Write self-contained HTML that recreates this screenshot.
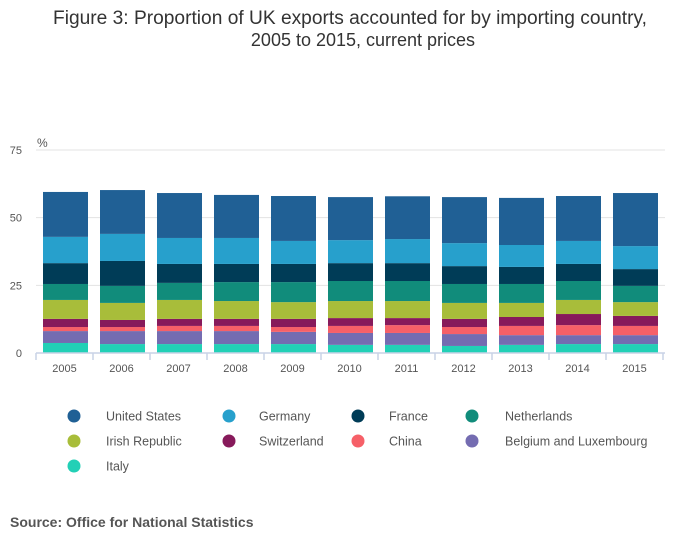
<!DOCTYPE html>
<html><head><meta charset="utf-8"><style>
body{margin:0;background:#fff;width:700px;height:549px;overflow:hidden;font-family:"Liberation Sans",sans-serif}
</style></head><body>
<svg id="chart" width="700" height="549" xmlns="http://www.w3.org/2000/svg" font-family="Liberation Sans, sans-serif">
<text x="53" y="24" textLength="594" lengthAdjust="spacingAndGlyphs" font-size="19" fill="#333">Figure 3: Proportion of UK exports accounted for by importing country,</text>
<text x="363" y="46" text-anchor="middle" font-size="18" fill="#333">2005 to 2015, current prices</text>
<text x="37" y="147" font-size="12" fill="#555">%</text>
<g id="grid"></g><g id="bars"></g><g id="xaxis"></g><g id="legend"></g>
<text x="10" y="527" font-size="14" font-weight="bold" fill="#555">Source: Office for National Statistics</text>
</svg>
<script>
const years=["2005","2006","2007","2008","2009","2010","2011","2012","2013","2014","2015"];
const seriesNames=["Italy","Belgium and Luxembourg","China","Switzerland","Irish Republic","Netherlands","France","Germany","United States"];
const italy=[3.7,3.3,3.3,3.3,3.3,3.0,3.0,2.6,3.0,3.3,3.3];
const belgiumLux=[4.4,4.8,4.8,4.8,4.5,4.4,4.4,4.4,3.6,3.3,3.3];
const china=[1.5,1.5,1.9,1.9,1.8,2.6,2.9,2.6,3.4,3.7,3.4];
const switzerland=[3.0,2.6,2.6,2.6,3.0,2.9,2.6,3.0,3.3,4.1,3.7];
const irish=[7.0,6.3,7.0,6.6,6.2,6.3,6.3,5.9,5.2,5.2,5.1];
const netherlands=[5.9,6.3,6.3,7.0,7.4,7.4,7.4,7.0,7.0,7.0,6.0];
const france=[7.7,9.2,7.0,6.7,6.7,6.6,6.6,6.6,6.3,6.3,6.2];
const germany=[9.7,10.0,9.6,9.6,8.5,8.5,8.9,8.5,8.1,8.5,8.5];
const unitedStates=[16.6,16.2,16.6,15.9,16.6,15.9,15.8,17.0,17.4,16.6,19.6];
const yTicks=[0,25,50,75];
const series=[italy,belgiumLux,china,switzerland,irish,netherlands,france,germany,unitedStates];
const colors=["#22d0b6","#746cb1","#f66068","#871a5b","#a8bd3a","#118c7b","#003c57","#27a0cc","#206095"];
const NS="http://www.w3.org/2000/svg";
const x0=36,x1=663,y0=353,yTop=150,yMax=75;
const bw=(x1-x0)/years.length;
const y=v=>y0-(v/yMax)*(y0-yTop);
const xc=i=>x0+bw*i;
function mk(tag,attrs,parent){const e=document.createElementNS(NS,tag);for(const k in attrs)e.setAttribute(k,attrs[k]);parent.appendChild(e);return e;}
const grid=document.getElementById('grid');
yTicks.forEach(t=>{
  if(t>0){const l=mk('line',{x1:x0,x2:665,y1:y(t),y2:y(t),stroke:'#e3e3e3','stroke-width':1},grid);
  
  }
  const tx=mk('text',{x:22,y:y(t)+4,'text-anchor':'end','font-size':11,fill:'#555'},grid);
  tx.textContent=t;
  
  
});
const bars=document.getElementById('bars');
years.forEach((yr,i)=>{
  let cum=0;
  series.forEach((s,k)=>{
    const v=s[i];
    const r=mk('rect',{x:xc(i)+7,width:bw-12,y:y(cum+v),height:y(cum)-y(cum+v),fill:colors[k]},bars);
    
    
    cum+=v;
  });
});
const xa=document.getElementById('xaxis');
const base=mk('line',{x1:x0,x2:x1+2,y1:y0,y2:y0,stroke:'#c8d2e6','stroke-width':1.5},xa);


for(let i=0;i<=years.length;i++){
  const t=mk('line',{x1:xc(i),x2:xc(i),y1:y0,y2:y0+7,stroke:'#c8d2e6','stroke-width':1.5},xa);
  
  
}
years.forEach((yr,i)=>{
  const t=mk('text',{x:xc(i)+bw/2,y:372,'text-anchor':'middle','font-size':11,fill:'#555'},xa);
  t.textContent=yr;
  
  
});
const legendOrder=[8,7,6,5,4,3,2,1,0];
const lgX=[74,229,358,472],lgTX=[106,259,389,505],lgY=[416,441,466];
const lg=document.getElementById('legend');
legendOrder.forEach((k,j)=>{
  const col=j%4,row=Math.floor(j/4);
  const g=mk('g',{},lg);
  
  
  mk('circle',{cx:lgX[col],cy:lgY[row],r:6.5,fill:colors[k]},g);
  const t=mk('text',{x:lgTX[col],y:lgY[row]+4.5,'font-size':12.5,fill:'#555'},g);
  t.textContent=seriesNames[k];
});
</script>
</body></html>
